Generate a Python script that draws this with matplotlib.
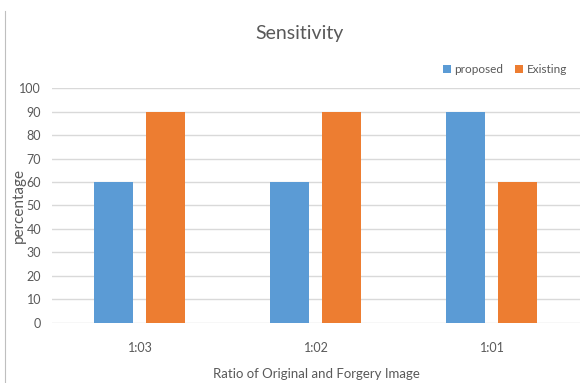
import numpy as np
from matplotlib import pyplot as plt
from matplotlib.lines import Line2D

categories = ["1:03", "1:02", "1:01"]
proposed = [60, 60, 90]
existing = [90, 90, 60]

plt.rcParams["font.family"] = ["Lato", "DejaVu Sans"]
grey = "#595959"

fig = plt.figure(figsize=(5.8, 3.83), dpi=100)
ax = fig.add_axes([0.09, 0.157, 0.91, 0.613])

x = np.arange(len(categories))
w = 0.22
ax.bar(x - 0.15, proposed, w, color="#5b9bd5", label="proposed", zorder=3)
ax.bar(x + 0.145, existing, w, color="#ed7d31", label="Existing", zorder=3)

ax.set_xlim(-0.5, 2.5)
ax.set_ylim(0, 100)
ax.set_yticks(np.arange(0, 101, 10))
ax.set_xticks(x, labels=categories)
ax.grid(True, axis="y", color="#d9d9d9", lw=1, zorder=0)
for s in ax.spines.values():
	s.set_visible(False)
ax.tick_params(length=0, colors=grey, labelsize=9)
ax.tick_params(axis="x", pad=14)
ax.tick_params(axis="y", pad=8)

ax.set_xlabel("Ratio of Original and Forgery Image", color=grey, fontsize=9.5, labelpad=10)
ax.set_ylabel("percentage", color=grey, fontsize=11)
ax.yaxis.set_label_coords(-0.05, 0.5)
fig.text(0.517, 0.913, "Sensitivity", ha="center", va="center", color=grey, fontsize=14)

ax.legend(loc="lower right", bbox_to_anchor=(0.985, 1.035), ncol=2, frameon=False,
	fontsize=8.5, handlelength=0.7, handleheight=0.7, handletextpad=0.3,
	columnspacing=1.0, labelcolor=grey, borderaxespad=0)

fig.add_artist(Line2D([0.009, 0.009], [0.0, 0.97], color="#bfbfbf", lw=0.8))

fig.savefig("out.png")
